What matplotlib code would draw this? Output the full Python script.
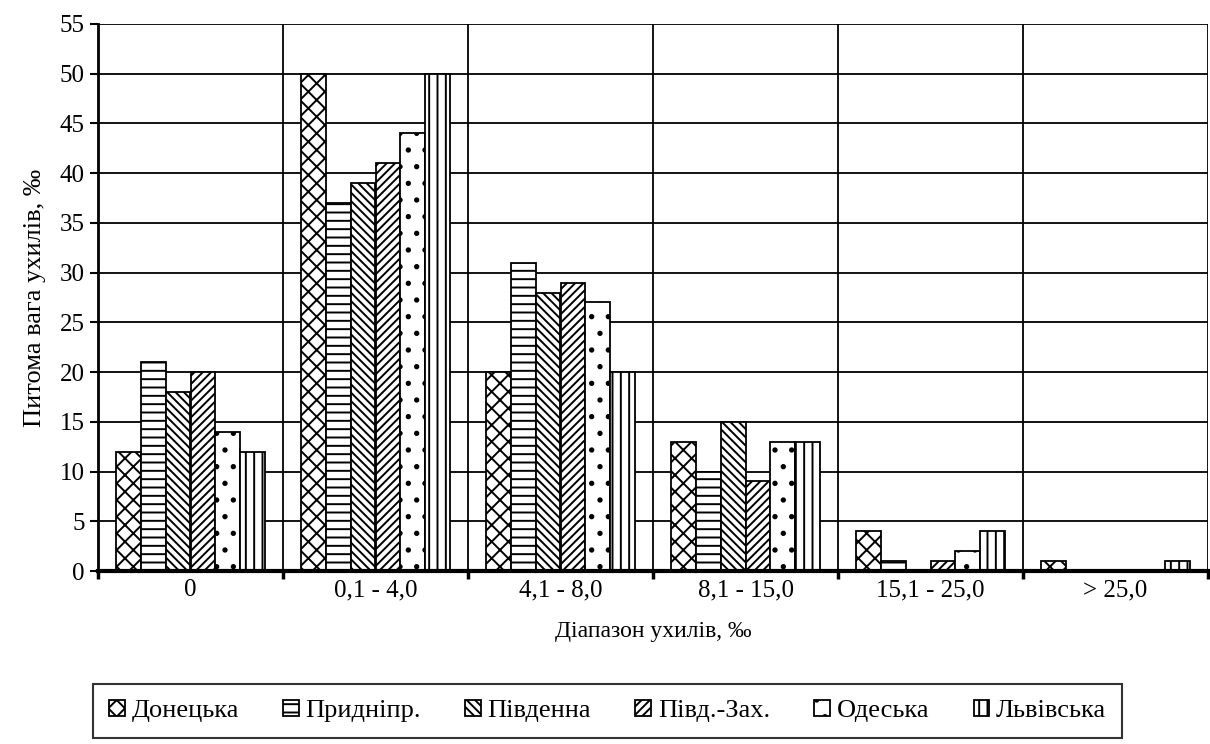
import numpy as np
import matplotlib
matplotlib.use("Agg")
import matplotlib.pyplot as plt

plt.rcParams['font.family'] = ['Liberation Serif', 'DejaVu Serif']
plt.rcParams['hatch.linewidth'] = 1.4

# Data
categories = ['0', '0,1 - 4,0', '4,1 - 8,0', '8,1 - 15,0', '15,1 - 25,0', '> 25,0']
donetska = [12, 50, 20, 13, 4, 1]
prydnipr = [21, 37, 31, 10, 1, 0]
pivdenna = [18, 39, 28, 15, 0, 0]
pivd_zakh = [20, 41, 29, 9, 1, 0]
odeska = [14, 44, 27, 13, 2, 0]
lvivska = [12, 50, 20, 13, 4, 1]

series = [donetska, prydnipr, pivdenna, pivd_zakh, odeska, lvivska]
names = ['Донецька', 'Придніпр.', 'Південна', 'Півд.-Зах.', 'Одеська', 'Львівська']
hatches = ['xx', '--', '\\\\\\\\', '////', '.', '||']

fig = plt.figure(figsize=(12.1, 7.44), dpi=100)
ax = fig.add_axes([98 / 1210, 1 - 571 / 744, 1110 / 1210, (571 - 24) / 744])

n = len(series)
bw = 25 / 186
x = np.arange(len(categories))
for i, (vals, name, h) in enumerate(zip(series, names, hatches)):
    pos = x + 0.5 + (i - (n - 1) / 2) * bw
    ax.bar(pos, vals, width=bw, facecolor='white', edgecolor='black',
           linewidth=1.3, hatch=h, label=name, zorder=3)

ax.set_xlim(0, len(categories))
ax.set_ylim(0, 55)
ax.set_yticks(np.arange(0, 56, 5))
ax.set_xticks(np.arange(0, len(categories) + 1))
ax.set_xticklabels([])
ax.set_xticks(x + 0.5, minor=True)
ax.set_xticklabels(categories, minor=True)
ax.tick_params(axis='x', which='minor', length=0, pad=6, labelsize=18)
ax.tick_params(axis='x', which='major', length=6, width=2.5, direction='out')
ax.tick_params(axis='y', length=6, width=1.5, direction='out', labelsize=18)

ax.grid(True, axis='y', color='black', linewidth=1.3, zorder=0)
ax.grid(True, axis='x', which='major', color='black', linewidth=1.3, zorder=0)

for side in ['top', 'right']:
    ax.spines[side].set_visible(False)
ax.spines['left'].set_linewidth(2)
ax.spines['bottom'].set_linewidth(3)
ax.spines['bottom'].set_zorder(5)

ax.set_ylabel('Питома вага ухилів, ‰', fontsize=19, labelpad=10)
ax.set_xlabel('Діапазон ухилів, ‰', fontsize=17, labelpad=14)

leg = fig.legend(loc='center', ncol=6,
                 bbox_to_anchor=(93 / 1210, 1 - 737 / 744, (1122 - 93) / 1210, 52 / 744),
                 mode='expand', fontsize=19, handlelength=0.6, handleheight=0.6,
                 handletextpad=0.25, frameon=True, fancybox=False, borderaxespad=0,
                 borderpad=0.6)
leg.get_frame().set_edgecolor('black')
leg.get_frame().set_linewidth(1.5)

fig.savefig('out.png', dpi=100)
